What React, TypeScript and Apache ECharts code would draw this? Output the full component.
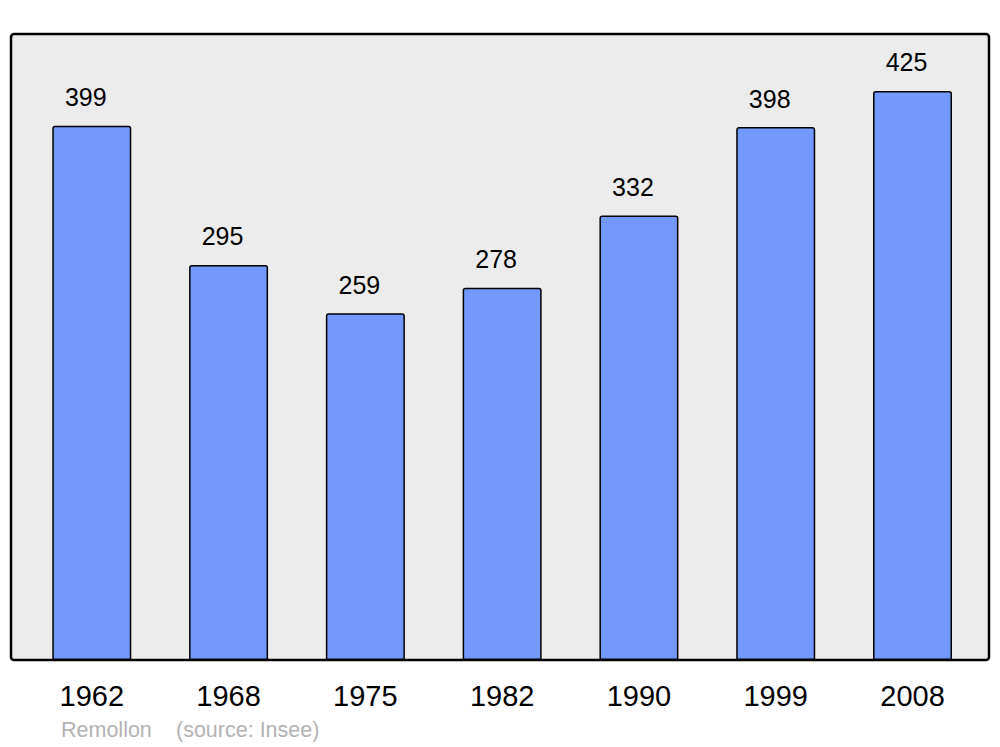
import React, { useEffect, useRef } from "react";
import * as echarts from "echarts";

const years = ["1962", "1968", "1975", "1982", "1990", "1999", "2008"];
const population = [399, 295, 259, 278, 332, 398, 425];
const commune = "Remollon";
const source = "(source: Insee)";

export default function App() {
  const ref = useRef<HTMLDivElement>(null);
  useEffect(() => {
    const chart = echarts.init(ref.current!, null, { renderer: "svg" });
    const font = "Liberation Sans, Arial, sans-serif";
    chart.setOption({
      animation: false,
      backgroundColor: "#ffffff",
      textStyle: { fontFamily: font },
      grid: { left: 23.4, right: 19.1, top: 34, bottom: 87, show: false },
      graphic: [
        {
          type: "rect",
          z: -10,
          shape: { x: 11, y: 34, width: 978, height: 626, r: 3 },
          style: { fill: "#ececec", stroke: "#000000", lineWidth: 2.5 },
        },
        {
          type: "text",
          x: 61,
          y: 730,
          style: { text: commune, fill: "#b3b3b3", fontSize: 21.5, fontFamily: font, verticalAlign: "middle" },
        },
        {
          type: "text",
          x: 176,
          y: 730,
          style: { text: source, fill: "#b3b3b3", fontSize: 21.5, fontFamily: font, verticalAlign: "middle" },
        },
      ],
      xAxis: {
        type: "category",
        data: years,
        axisLine: { show: false },
        axisTick: { show: false },
        axisLabel: { color: "#000", fontSize: 29, margin: 21, fontFamily: font },
      },
      yAxis: {
        type: "value",
        min: 0,
        max: 467.5,
        show: false,
        splitLine: { show: false },
      },
      series: [
        {
          type: "bar",
          data: population,
          barWidth: 79,
          itemStyle: {
            color: "#7399ff",
            borderColor: "#000000",
            borderWidth: 1.5,
            borderRadius: [2, 2, 0, 0],
          },
          label: {
            show: true,
            position: "top",
            distance: 16,
            offset: [-6, 0],
            color: "#000",
            fontSize: 25,
            fontFamily: font,
          },
        },
      ],
    });
    return () => chart.dispose();
  }, []);
  return <div ref={ref} style={{ position: "fixed", left: 0, top: 0, width: 1000, height: 747 }} />;
}
